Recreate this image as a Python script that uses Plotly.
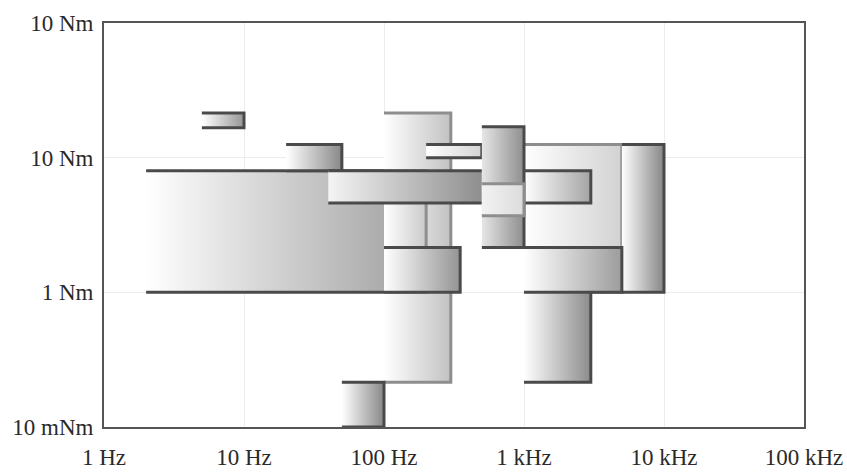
import plotly.graph_objects as go

# Axis ticks
x_tickvals = [1, 10, 100, 1e3, 1e4, 1e5]
x_ticktext = ["1 Hz", "10 Hz", "100 Hz", "1 kHz", "10 kHz", "100 kHz"]
y_tickvals = [0.1, 1, 10, 100]
y_ticktext = ["10 mNm", "1 Nm", "10 Nm", "10 Nm"]

# Box data (frequency band in Hz, torque band in Nm), drawn back to front
f_low  = [100, 2, 5, 20, 50, 100, 40, 100, 200, 1000, 1000, 5000, 1000, 1000, 500, 500]
f_high = [300, 100, 10, 50, 100, 200, 500, 350, 500, 5000, 3000, 10000, 3000, 5000, 1000, 1000]
t_high = [21.5, 8, 21.5, 12.5, 0.215, 8, 8, 2.15, 12.5, 12.5, 2.15, 12.5, 8, 2.15, 17, 6.4]
t_low  = [0.215, 1, 16.7, 8, 0.1, 1, 4.6, 1, 10, 1, 0.215, 1, 4.6, 1, 2.15, 3.7]

# Styles (kept separate from data)
edge_dark = [False, True, True, True, True, False, True, True, True, False, True, True, True, True, True, False]
right_gray = ["#c2c2c2", "#acacac", "#969696", "#888888", "#888888", "#cacaca", "#8e8e8e", "#949494",
              "#d4d4d4", "#d2d2d2", "#8c8c8c", "#868686", "#a4a4a4", "#9c9c9c", "#8e8e8e", "#dcdcdc"]
left_gray = ["#ffffff", "#ffffff", "#ffffff", "#ffffff", "#ffffff", "#ffffff", "#f4f4f4", "#ffffff",
             "#ffffff", "#ffffff", "#ffffff", "#ffffff", "#ffffff", "#ffffff", "#e6e6e6", "#f2f2f2"]
sides = ["trb", "tb", "trb", "trb", "trb", "trb", "tb", "trb", "trb", "trb", "trb", "trb", "trb", "trb", "trb", "trb"]

fig = go.Figure()
for i in range(len(f_low)):
    x0, x1, yt, yb = f_low[i], f_high[i], t_high[i], t_low[i]
    fig.add_trace(go.Scatter(
        x=[x0, x1, x1, x0, x0], y=[yb, yb, yt, yt, yb],
        mode="lines", line=dict(width=0), fill="toself",
        fillgradient=dict(type="horizontal",
                          colorscale=[[0, left_gray[i]], [1, right_gray[i]]]),
        hoverinfo="skip", showlegend=False))
    lc = "#4a4a4a" if edge_dark[i] else "#8e8e8e"
    if sides[i] == "trb":
        fig.add_trace(go.Scatter(x=[x0, x1, x1, x0], y=[yt, yt, yb, yb], mode="lines",
                                 line=dict(color=lc, width=3), hoverinfo="skip", showlegend=False))
    else:
        fig.add_trace(go.Scatter(x=[x0, x1, None, x0, x1], y=[yt, yt, None, yb, yb], mode="lines",
                                 line=dict(color=lc, width=3), hoverinfo="skip", showlegend=False))

font = dict(family="Liberation Serif", size=23, color="#2a2a2a")
fig.update_layout(
    width=847, height=473,
    margin=dict(l=104, r=43, t=23, b=46, autoexpand=False),
    paper_bgcolor="white", plot_bgcolor="white",
    xaxis=dict(type="log", range=[0, 5], tickvals=x_tickvals, ticktext=x_ticktext,
               showgrid=True, gridcolor="#ececec", gridwidth=1, zeroline=False,
               showline=True, mirror=True, linecolor="#555555", linewidth=2,
               ticks="", tickfont=font, ticklabelstandoff=8, automargin=False),
    yaxis=dict(type="log", range=[-1, 2], tickvals=y_tickvals, ticktext=y_ticktext,
               showgrid=True, gridcolor="#ececec", gridwidth=1, zeroline=False,
               showline=True, mirror=True, linecolor="#555555", linewidth=2,
               ticks="", tickfont=font, ticklabelstandoff=4, automargin=False),
)
fig.write_html("out.html", config={"displayModeBar": False},
               post_script="document.body.style.margin='0';document.body.style.overflow='hidden';")
